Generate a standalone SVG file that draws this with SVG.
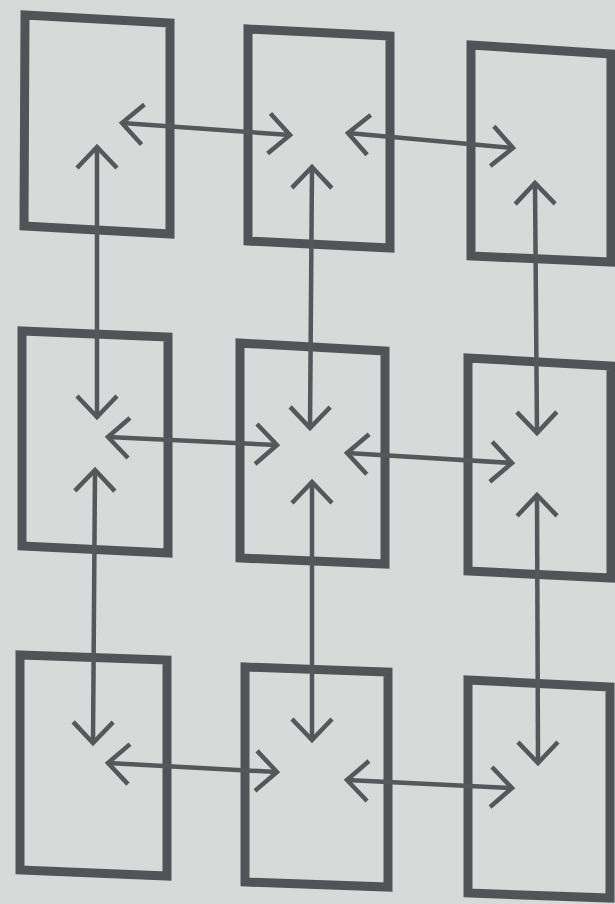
<svg xmlns="http://www.w3.org/2000/svg" width="615" height="904" viewBox="0 0 615 904">
<style>
.box{fill:none;stroke:#525357;stroke-width:9;stroke-linejoin:miter}
.ln{fill:none;stroke:#56575b;stroke-width:4.5;marker-start:url(#ah);marker-end:url(#ah)}
</style>
<defs>
<marker id="ah" markerUnits="userSpaceOnUse" viewBox="-26 -24 30 48" refX="0" refY="0" markerWidth="30" markerHeight="48" orient="auto-start-reverse">
<path d="M-21,-20 L0,0 L-21,20" fill="none" stroke="#56575b" stroke-width="4.5" stroke-linecap="butt" stroke-linejoin="miter"/>
</marker>
</defs>
<rect width="615" height="904" fill="#d7dad9"/>
<g id="node1"><polygon class="box" points="25,15 170,23 170,234 24,226"/></g>
<g id="node2"><polygon class="box" points="248,29 390,36 390,248 248,241"/></g>
<g id="node3"><polygon class="box" points="471,45 611,54 611,262 471,256"/></g>
<g id="node4"><polygon class="box" points="22,331 168,337 168,553 22,546"/></g>
<g id="node5"><polygon class="box" points="240,343 385,351 385,564 240,558"/></g>
<g id="node6"><polygon class="box" points="468,358 611,366 611,578 468,571"/></g>
<g id="node7"><polygon class="box" points="20,655 167,660 167,876 20,870"/></g>
<g id="node8"><polygon class="box" points="245,667 388,672 388,887 245,882"/></g>
<g id="node9"><polygon class="box" points="468,680 610,687 610,898 468,893"/></g>
<g id="connectors">
<line class="ln" x1="122" y1="123" x2="290" y2="135"/>
<line class="ln" x1="348" y1="133" x2="513" y2="148"/>
<line class="ln" x1="108" y1="437" x2="277" y2="445"/>
<line class="ln" x1="347" y1="453" x2="512" y2="463"/>
<line class="ln" x1="108" y1="763" x2="277" y2="772"/>
<line class="ln" x1="347" y1="780" x2="512" y2="788"/>
<line class="ln" x1="97" y1="147" x2="97" y2="417"/>
<line class="ln" x1="95" y1="470" x2="93" y2="743"/>
<line class="ln" x1="312" y1="167" x2="310" y2="428"/>
<line class="ln" x1="312" y1="482" x2="312" y2="740"/>
<line class="ln" x1="535" y1="183" x2="537" y2="433"/>
<line class="ln" x1="537" y1="495" x2="538" y2="763"/>
</g>
</svg>
